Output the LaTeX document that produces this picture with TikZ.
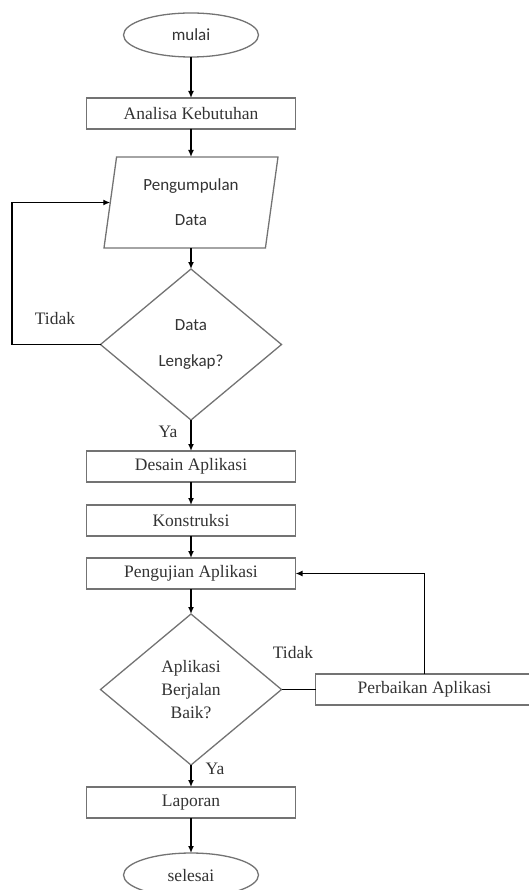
\documentclass[tikz,border=0pt]{standalone}
\usepackage{fontspec}
\setmainfont{Liberation Serif}
\newfontfamily\calibri{Carlito}
\usetikzlibrary{positioning,arrows.meta,shapes.geometric}

\begin{document}
\begin{tikzpicture}[
    x=1pt, y=1pt,
    font=\fontsize{17.5}{21}\selectfont, text=black!80,
    outline/.style={draw=black!55, line width=1.3pt, outer sep=0pt},
    box/.style={outline, rectangle, minimum width=209pt, minimum height=31pt, inner sep=0pt},
    terminal/.style={outline, ellipse, minimum width=135pt, minimum height=44pt, inner sep=0pt},
    datain/.style={outline, trapezium, trapezium left angle=75, trapezium right angle=105, trapezium stretches body,
        minimum width=174pt, minimum height=91pt, inner sep=0pt, align=center, font=\calibri\fontsize{17}{35}\selectfont},
    decision/.style={outline, diamond, minimum width=181pt, minimum height=151pt, inner sep=0pt, align=center},
    arrow/.style={-{Latex[length=7pt,width=6pt]}, line width=1.8pt},
    link/.style={line width=1.8pt},
    lbl/.style={inner sep=0pt}]
\useasboundingbox (0,0) rectangle (529,-890);
\node[terminal, font=\calibri\fontsize{17}{20}\selectfont] (mulai) at (191,-35) {mulai};
\node[box, below=41pt of mulai] (analisa) {Analisa Kebutuhan};
\node[datain, below=28pt of analisa] (kumpul) {Pengumpulan\\Data};
\node[decision, below=21pt of kumpul, font=\calibri\fontsize{17}{36}\selectfont] (lengkap) {Data\\Lengkap?};
\node[box, below=31pt of lengkap] (desain) {Desain Aplikasi};
\node[box, below=23pt of desain] (konstruksi) {Konstruksi};
\node[box, below=22pt of konstruksi] (uji) {Pengujian Aplikasi};
\node[decision, below=25pt of uji, font=\fontsize{17.5}{23}\selectfont] (berjalan) {Aplikasi\\Berjalan\\Baik?};
\node[box, right=34pt of berjalan, minimum width=218pt] (perbaikan) {Perbaikan Aplikasi};
\node[box, below=22pt of berjalan] (laporan) {Laporan};
\node[terminal, below=35pt of laporan] (selesai) {selesai};
% labels
\node[lbl] (tidak1) at (55,-319) {Tidak};
\node[lbl] (ya1) at (168,-432) {Ya};
\node[lbl] (tidak2) at (293,-653) {Tidak};
\node[lbl] (ya2) at (215,-769) {Ya};
\coordinate (kiri) at (12,0);
% connectors
\draw[arrow] (mulai) -- (analisa);
\draw[arrow] (analisa) -- (kumpul);
\draw[arrow] (kumpul) -- (lengkap);
\draw[arrow] (lengkap) -- (desain);
\draw[arrow] (desain) -- (konstruksi);
\draw[arrow] (konstruksi) -- (uji);
\draw[arrow] (uji) -- (berjalan);
\draw[arrow] (berjalan) -- (laporan);
\draw[arrow] (laporan) -- (selesai);
\draw[arrow] (lengkap.west) -- (lengkap.west -| kiri) |- (kumpul.west);
\draw[link] (berjalan.east) -- (perbaikan.west);
\draw[arrow] (perbaikan.north) |- (uji.east);
\end{tikzpicture}
\end{document}
